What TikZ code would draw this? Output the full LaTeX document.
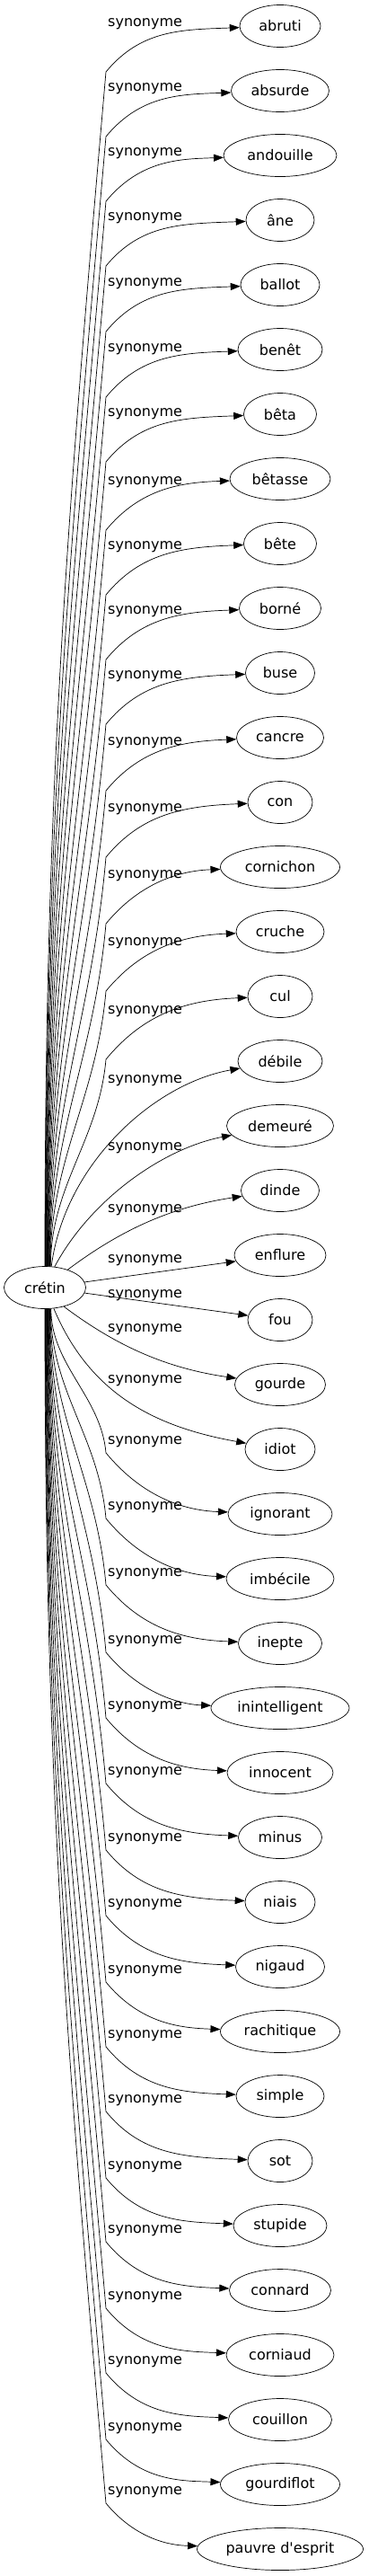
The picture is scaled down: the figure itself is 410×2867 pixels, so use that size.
\documentclass[tikz,border=0pt]{standalone}
\usepackage{fontspec}
\setmainfont{DejaVu Sans}
\usetikzlibrary{shapes.geometric,arrows.meta}
\newcommand\straightapos{\XeTeXglyph\XeTeXcharglyph"0027\relax}
\newcommand\upedge[3]{\pgfmathsetmacro\ctrlA{0.39*(1410-#2)}\pgfmathsetmacro\ctrlB{-0.087*\ctrlA}%
  \draw[edge] (cretin.#1) .. controls +(0,\ctrlA) and +(\ctrlB,-\ctrlA) .. (118,-#2) .. controls +(39,47) and +(-110,-4) .. (#3);}
\newcommand\downedge[3]{\pgfmathsetmacro\ctrlA{0.39*(#2-1456)}\pgfmathsetmacro\ctrlB{-0.087*\ctrlA}%
  \draw[edge] (cretin.#1) .. controls +(0,-\ctrlA) and +(\ctrlB,\ctrlA) .. (118,-#2) .. controls +(39,-47) and +(-110,4) .. (#3);}
\begin{document}
\begin{tikzpicture}[x=1pt,y=1pt,
  word/.style={draw, ellipse, line width=0.7pt, inner sep=0pt, minimum height=47pt, font=\fontsize{16pt}{19pt}\selectfont},
  lbl/.style={anchor=west, inner sep=0pt, font=\fontsize{16pt}{19pt}\selectfont},
  edge/.style={line width=0.7pt, -{Triangle[length=11pt,width=8pt]}}]
\useasboundingbox (0,0) rectangle (410,-2867);
\node[word, minimum width=91pt] (cretin) at (50,-1433) {crétin};
\node[word, minimum width=90pt]  (abruti) at (312,-29) {abruti};
\node[word, minimum width=109pt] (absurde) at (312,-101) {absurde};
\node[word, minimum width=126pt] (andouille) at (312,-173) {andouille};
\node[word, minimum width=76pt]  (ane) at (312,-245) {âne};
\node[word, minimum width=88pt]  (ballot) at (312,-317) {ballot};
\node[word, minimum width=94pt]  (benet) at (312,-389) {benêt};
\node[word, minimum width=81pt]  (beta) at (312,-461) {bêta};
\node[word, minimum width=112pt] (betasse) at (312,-533) {bêtasse};
\node[word, minimum width=81pt]  (bete) at (312,-605) {bête};
\node[word, minimum width=91pt]  (borne) at (312,-677) {borné};
\node[word, minimum width=77pt]  (buse) at (312,-749) {buse};
\node[word, minimum width=97pt]  (cancre) at (312,-821) {cancre};
\node[word, minimum width=72pt]  (con) at (312,-893) {con};
\node[word, minimum width=133pt] (cornichon) at (312,-965) {cornichon};
\node[word, minimum width=98pt]  (cruche) at (312,-1037) {cruche};
\node[word, minimum width=72pt]  (cul) at (312,-1109) {cul};
\node[word, minimum width=94pt]  (debile) at (312,-1181) {débile};
\node[word, minimum width=119pt] (demeure) at (312,-1253) {demeuré};
\node[word, minimum width=87pt]  (dinde) at (312,-1325) {dinde};
\node[word, minimum width=102pt] (enflure) at (312,-1397) {enflure};
\node[word, minimum width=72pt]  (fou) at (312,-1469) {fou};
\node[word, minimum width=101pt] (gourde) at (312,-1541) {gourde};
\node[word, minimum width=78pt]  (idiot) at (312,-1613) {idiot};
\node[word, minimum width=116pt] (ignorant) at (312,-1685) {ignorant};
\node[word, minimum width=120pt] (imbecile) at (312,-1757) {imbécile};
\node[word, minimum width=93pt]  (inepte) at (312,-1829) {inepte};
\node[word, minimum width=154pt] (inintelligent) at (312,-1901) {inintelligent};
\node[word, minimum width=118pt] (innocent) at (312,-1973) {innocent};
\node[word, minimum width=93pt]  (minus) at (312,-2045) {minus};
\node[word, minimum width=78pt]  (niais) at (312,-2117) {niais};
\node[word, minimum width=99pt]  (nigaud) at (312,-2189) {nigaud};
\node[word, minimum width=133pt] (rachitique) at (312,-2261) {rachitique};
\node[word, minimum width=98pt]  (simple) at (312,-2333) {simple};
\node[word, minimum width=72pt]  (sot) at (312,-2405) {sot};
\node[word, minimum width=104pt] (stupide) at (312,-2477) {stupide};
\node[word, minimum width=113pt] (connard) at (312,-2549) {connard};
\node[word, minimum width=120pt] (corniaud) at (312,-2621) {corniaud};
\node[word, minimum width=115pt] (couillon) at (312,-2693) {couillon};
\node[word, minimum width=133pt] (gourdiflot) at (312,-2765) {gourdiflot};
\node[word, minimum width=185pt] (pauvre) at (312,-2837) {pauvre d\straightapos esprit};
% labels
\foreach \ly [count=\i] in {27,99,171,243,316,389,461,537,609,681,753,827,901,975,1050,1126,1203,1278,1347,1403,1442,1480,1537,1605,1678,1752,1827,1900,1973,2047,2120,2194,2266,2338,2412,2483,2557,2629,2703,2774}
  \node[lbl] (l\i) at (120,-\ly) {synonyme};
% upper edges
\upedge{90}{80}{abruti}
\upedge{89}{152}{absurde}
\upedge{88}{224}{andouille}
\upedge{87}{296}{ane}
\upedge{86}{369}{ballot}
\upedge{85}{442}{benet}
\upedge{84}{514}{beta}
\upedge{83}{590}{betasse}
\upedge{82}{662}{bete}
\upedge{81}{734}{borne}
\upedge{80}{806}{buse}
\upedge{79}{880}{cancre}
\upedge{78}{954}{con}
\upedge{77}{1028}{cornichon}
\upedge{76}{1103}{cruche}
\upedge{75}{1179}{cul}
\draw[edge] (cretin.73) .. controls +(15,115) and +(-140,-25) .. (debile);
\draw[edge] (cretin.65) .. controls +(40,75) and +(-130,-25) .. (demeure);
\draw[edge] (cretin.38) .. controls +(60,45) and +(-120,-18) .. (dinde);
\draw[edge] (cretin) -- (enflure);
\draw[edge] (cretin) -- (fou);
\draw[edge] (cretin.315) .. controls +(60,-45) and +(-125,18) .. (gourde);
\draw[edge] (cretin.293) .. controls +(40,-95) and +(-140,25) .. (idiot);
% lower edges
\downedge{286}{1617}{ignorant}
\downedge{285}{1690}{imbecile}
\downedge{284}{1764}{inepte}
\downedge{283}{1839}{inintelligent}
\downedge{282}{1912}{innocent}
\downedge{281}{1985}{minus}
\downedge{280}{2059}{niais}
\downedge{279}{2132}{nigaud}
\downedge{278}{2206}{rachitique}
\downedge{277}{2278}{simple}
\downedge{276}{2350}{sot}
\downedge{275}{2424}{stupide}
\downedge{274}{2495}{connard}
\downedge{273}{2569}{corniaud}
\downedge{272}{2641}{couillon}
\downedge{271}{2715}{gourdiflot}
\downedge{270}{2786}{pauvre}
\end{tikzpicture}
\end{document}
